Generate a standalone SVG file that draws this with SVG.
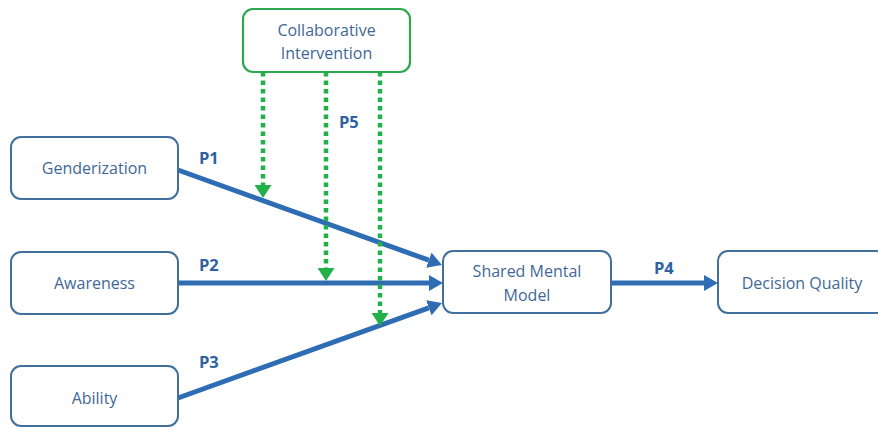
<svg xmlns="http://www.w3.org/2000/svg" width="878" height="427" viewBox="0 0 878 427">
<style>
.box{fill:#fff;stroke:#41709c;stroke-width:2}
.gbox{fill:#fff;stroke:#2ea84f;stroke-width:2.2}
.t{font-family:"Open Sans","Liberation Sans",sans-serif;font-size:16px;fill:#3f6897;text-anchor:middle}
.p{font-family:"Open Sans","Liberation Sans",sans-serif;font-size:16.5px;font-weight:bold;fill:#2e62a0}
.b{stroke:#2e6db4;stroke-width:5;fill:none}
.g{stroke:#22b04b;stroke-width:4.5;stroke-dasharray:4.5 4;fill:none}
</style>
<defs>
<marker id="ab" markerUnits="userSpaceOnUse" markerWidth="14" markerHeight="16" refX="0" refY="8" orient="auto" viewBox="0 0 14 16"><path d="M0,0 L14,8 L0,16 z" fill="#2e6db4"/></marker>
<marker id="ag" markerUnits="userSpaceOnUse" markerWidth="13" markerHeight="17" refX="0" refY="8.5" orient="auto" viewBox="0 0 13 17"><path d="M0,0 L13,8.5 L0,17 z" fill="#22b04b"/></marker>
</defs>
<g id="connectors">
<line class="b" x1="178" y1="170" x2="428.8" y2="260.2" marker-end="url(#ab)"/>
<line class="b" x1="178" y1="283" x2="429" y2="283" marker-end="url(#ab)"/>
<line class="b" x1="178" y1="398" x2="428.8" y2="307.8" marker-end="url(#ab)"/>
<line class="b" x1="611" y1="283" x2="704" y2="283" marker-end="url(#ab)"/>
<line class="g" x1="263" y1="72" x2="263" y2="185" marker-end="url(#ag)"/>
<line class="g" x1="326" y1="72" x2="326" y2="268" marker-end="url(#ag)"/>
<line class="g" x1="380" y1="72" x2="380" y2="313" marker-end="url(#ag)"/>
<text class="p" x="199" y="164">P1</text>
<text class="p" x="199" y="271">P2</text>
<text class="p" x="199" y="368">P3</text>
<text class="p" x="654" y="274">P4</text>
<text class="p" x="339" y="128">P5</text>
</g>
<g id="collab"><rect class="gbox" x="243" y="9" width="167" height="63" rx="10"/><text class="t" x="326.5" y="36">Collaborative</text><text class="t" x="326.5" y="59">Intervention</text></g>
<g id="genderization"><rect class="box" x="11" y="137" width="167" height="62" rx="10"/><text class="t" x="94.5" y="174">Genderization</text></g>
<g id="awareness"><rect class="box" x="11" y="252" width="167" height="62" rx="10"/><text class="t" x="94.5" y="289">Awareness</text></g>
<g id="ability"><rect class="box" x="11" y="366" width="167" height="60" rx="10"/><text class="t" x="94.5" y="404">Ability</text></g>
<g id="smm"><rect class="box" x="443" y="251" width="168" height="62" rx="10"/><text class="t" x="527" y="277">Shared Mental</text><text class="t" x="527" y="301">Model</text></g>
<g id="dq"><rect class="box" x="718" y="251" width="168" height="62" rx="10"/><text class="t" x="802" y="289">Decision Quality</text></g>
</svg>
